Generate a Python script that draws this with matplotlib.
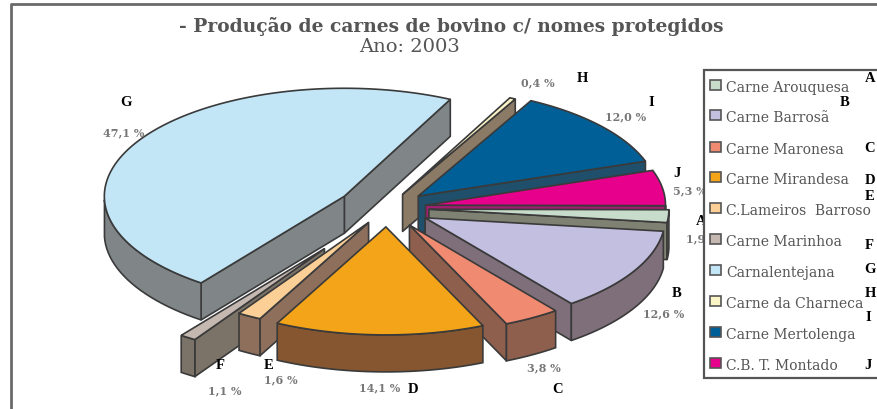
import numpy as np
import matplotlib
matplotlib.use("Agg")
import matplotlib.pyplot as plt
from matplotlib.patches import Polygon, Rectangle

plt.rcParams['font.family'] = ['DejaVu Serif', 'DejaVu Sans']

# Data
letters = ['A', 'B', 'C', 'D', 'E', 'F', 'G', 'H', 'I', 'J']
names = ['Carne Arouquesa', 'Carne Barrosã', 'Carne Maronesa', 'Carne Mirandesa',
         'C.Lameiros  Barroso', 'Carne Marinhoa', 'Carnalentejana',
         'Carne da Charneca', 'Carne Mertolenga', 'C.B. T. Montado']
shares = [1.9, 12.6, 3.8, 14.1, 1.6, 1.1, 47.1, 0.4, 12.0, 5.3]
share_labels = ['1,9 %', '12,6 %', '3,8 %', '14,1 %', '1,6 %', '1,1 %', '47,1 %', '0,4 %', '12,0 %', '5,3 %']
top_colors = ['#c8dccb', '#c3bfe0', '#f08b72', '#f4a418', '#fbcf96',
              '#c5b8b0', '#c3e6f7', '#fbf4c6', '#005f96', '#e6008c']
side_colors = ['#7f8272', '#7e6f7a', '#8f5f4e', '#85562f', '#8d6f5c',
               '#7b7268', '#808688', '#8b7b66', '#1f4f6a', '#a01f70']
explode = [42, 44, 44, 42, 37, 110, 50, 34, 41, 39]

# Pie geometry in image pixels
cx, cy = 387, 209
rx, ry = 240, 108
depth = 37
start_angle = 63.8
edge = '#3a3a3a'
serif = 'Liberation Serif'

fig = plt.figure(figsize=(8.77, 4.10), dpi=100)
ax = fig.add_axes([0, 0, 1, 1])
ax.set_xlim(0, 877)
ax.set_ylim(410, 0)
ax.axis('off')

# Frame: only left and top show
ax.plot([10.5, 10.5, 877], [410, 5, 5], color='#6a6a6a', lw=2)


def point(theta, off_x, off_y, drop=0):
    return (cx + off_x + rx * np.cos(theta),
            cy + off_y - ry * np.sin(theta) + drop)


def draw_slice(i, a0, a1):
    mid = np.radians((a0 + a1) / 2)
    off_x = explode[i] * np.cos(mid)
    off_y = -explode[i] * ry / rx * np.sin(mid)
    a = np.radians(a0)
    b = np.radians(a1)
    apex = (cx + off_x, cy + off_y)
    apex_low = (apex[0], apex[1] + depth)
    walls = []
    if np.cos(a) > 0:
        walls.append(a)
    if np.cos(b) < 0:
        walls.append(b)
    for w in walls:
        face = [apex, point(w, off_x, off_y), point(w, off_x, off_y, drop=depth), apex_low]
        ax.add_patch(Polygon(face, fc=side_colors[i], ec=edge, lw=1.2, joinstyle='round'))
    # Outer wall, front half only
    ts = np.linspace(a, b, 80)
    ts = ts[np.sin(ts) < 0]
    if len(ts) > 1:
        up = [point(t, off_x, off_y) for t in ts]
        low = [point(t, off_x, off_y, drop=depth) for t in ts[::-1]]
        ax.add_patch(Polygon(up + low, fc=side_colors[i], ec=edge, lw=1.2))
    # Top face
    ts = np.linspace(a, b, 120)
    top = [apex] + [point(t, off_x, off_y) for t in ts]
    ax.add_patch(Polygon(top, fc=top_colors[i], ec=edge, lw=1.2))


# Angles run counter-clockwise from G's start, in reversed legend order
order = [6, 5, 4, 3, 2, 1, 0, 9, 8, 7]
spans = {}
ang = start_angle
for i in order:
    spans[i] = (ang, ang + shares[i] * 3.6)
    ang += shares[i] * 3.6

# Paint from back to front
mids = {i: np.sin(np.radians(sum(spans[i]) / 2)) for i in spans}
for i in sorted(spans, key=lambda k: -mids[k]):
    draw_slice(i, *spans[i])

# Titles
ax.text(451, 26, '- Produção de carnes de bovino c/ nomes protegidos', ha='center', va='center',
        fontsize=13.4, fontweight='bold', color='#555555')
ax.text(410, 47, 'Ano: 2003', ha='center', va='center', fontsize=14, color='#555555')

# Percent labels
pct_xy = [(703, 239), (664, 314), (544, 368), (380, 388), (281, 380),
          (225, 391), (124, 133), (538, 83), (626, 117), (690, 191)]
for lab, (x, y) in zip(share_labels, pct_xy):
    ax.text(x, y, lab, ha='center', va='center', fontsize=8, fontweight='bold', color='#777777')

# Pie letters
letter_xy = [(701, 222), (677, 294), (558, 390), (413, 390), (269, 366),
             (220, 366), (126, 102), (582, 78), (651, 102), (677, 174)]
for let, (x, y) in zip(letters, letter_xy):
    ax.text(x, y, let, ha='center', va='center', fontsize=10.5, fontweight='bold',
            color='black', family=serif)

# Legend
ax.add_patch(Rectangle((704, 70.5), 180, 308.5, fc='white', ec='#555555', lw=1.6, zorder=3))
legend_y = [87, 117, 149, 179, 210, 241, 272, 303, 334, 365]
for i, y in enumerate(legend_y):
    ax.add_patch(Rectangle((710, y - 6), 11, 10, fc=top_colors[i], ec='#555555', lw=1.2, zorder=4))
    ax.text(726, y + 1, names[i], ha='left', va='center', fontsize=10, color='#555555', zorder=4)

# Letters at the right of the legend
key_xy = [(870, 78), (845, 102), (870, 149), (870, 181), (870, 197),
          (869, 246), (870, 270), (870, 294), (868, 318), (868, 366)]
for let, (x, y) in zip(letters, key_xy):
    ax.text(x, y, let, ha='center', va='center', fontsize=10.5, fontweight='bold',
            color='black', family=serif, zorder=5)

fig.savefig('out.png', dpi=100)
